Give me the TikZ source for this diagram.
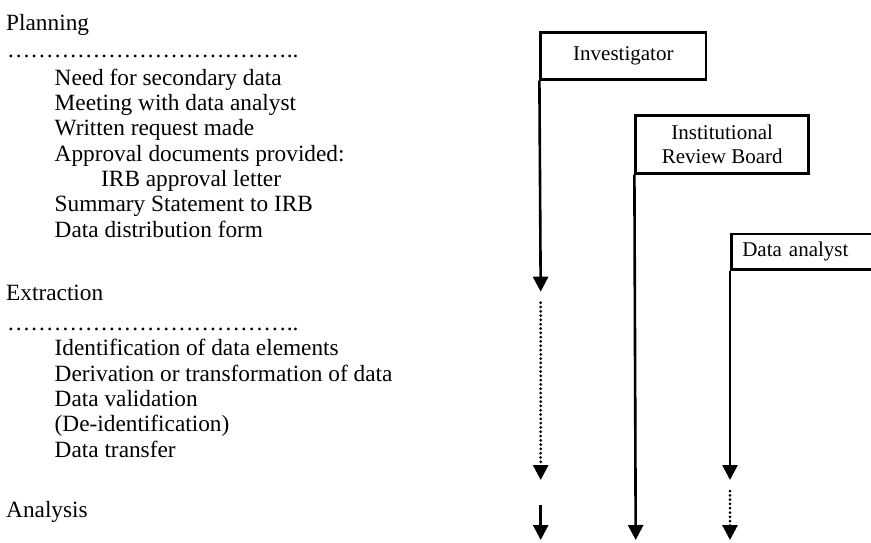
\documentclass[tikz,border=0pt]{standalone}
\usepackage{fontspec}
\setmainfont{Liberation Serif}
\usetikzlibrary{arrows.meta}
\newcommand{\myell}{…}
\newcommand{\mydotrow}{\myell\myell\myell\myell\myell\myell\myell\myell\myell\myell\myell\myell..}
\begin{document}
\begin{tikzpicture}[x=1pt,y=-1pt,
  txt/.style={anchor=base west, inner sep=0pt, font=\fontsize{23.3}{25}\selectfont},
  box/.style={draw, line width=2.6pt, inner sep=0pt, font=\fontsize{21}{24}\selectfont, align=center},
  flow/.style={line width=2.6pt, -{Triangle[width=15pt,length=15pt]}},
  dotflow/.style={flow, line width=3pt, dash pattern=on 0pt off 4.3pt, line cap=round}]
\useasboundingbox (0,0) rectangle (871,542);

% left text
\node[txt] (plan)  at (6,30)    {Planning};
\node[txt] (pdots) at (7,57)    {\mydotrow};
\node[txt] (p1)    at (54.5,85) {Need for secondary data};
\node[txt] (p2)    at (54.5,110) {Meeting with data analyst};
\node[txt] (p3)    at (54.5,135) {Written request made};
\node[txt] (p4)    at (54.5,161) {Approval documents provided:};
\node[txt] (p5)    at (101,186) {IRB approval letter};
\node[txt] (p6)    at (54.5,211) {Summary Statement to IRB};
\node[txt] (p7)    at (54.5,237) {Data distribution form};

\node[txt] (extr)  at (6,300)   {Extraction};
\node[txt] (edots) at (7,330)   {\mydotrow};
\node[txt] (e1)    at (54.5,355) {Identification of data elements};
\node[txt] (e2)    at (54.5,381) {Derivation or transformation of data};
\node[txt] (e3)    at (54.5,406) {Data validation};
\node[txt] (e4)    at (54.5,431) {(De-identification)};
\node[txt] (e5)    at (54.5,457) {Data transfer};

\node[txt] (anal)  at (6,517)   {Analysis};

% boxes
\node[box, minimum width=165.3pt, minimum height=47pt] (inv) at (623.35,55.8) {Investigator};
\node[box, minimum width=173pt, minimum height=57.6pt] (irb) at (722.2,144.5) {Institutional\\Review Board};
\node[box, anchor=north west, minimum height=35.6pt, text width=138pt, inner xsep=11pt, align=left] (da) at (730,232.7) {Data analyst};

% end points
\coordinate (i1e) at (540.7,291.7);
\coordinate (i2s) at (540.7,302.7);
\coordinate (i2e) at (540.7,480);
\coordinate (i3s) at (540.7,505);
\coordinate (i3e) at (540.7,540);
\coordinate (r1e) at (635.7,540);
\coordinate (d1e) at (730,480);
\coordinate (d2s) at (730,491);
\coordinate (d2e) at (730,540);

\draw[flow] (inv.south west) -- (i1e);
\draw[dotflow] (i2s) -- (i2e);
\draw[flow] (i3s) -- (i3e);
\draw[flow] (irb.south west) -- (r1e);
\draw[flow] (da.south west) -- (d1e);
\draw[dotflow] (d2s) -- (d2e);
\end{tikzpicture}
\end{document}
